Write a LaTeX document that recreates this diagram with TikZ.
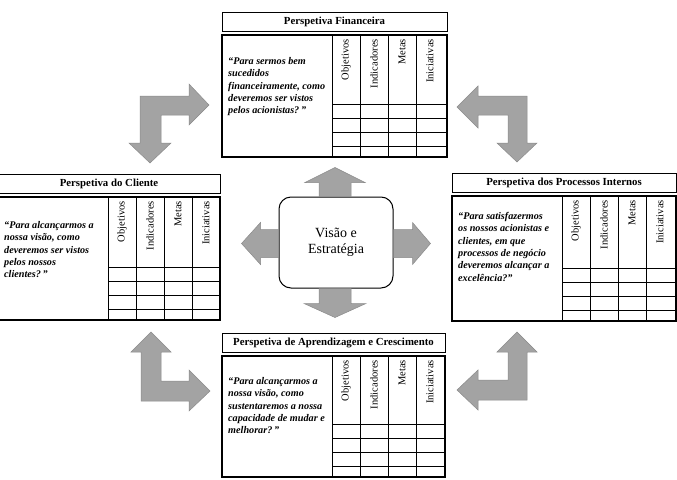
\documentclass[tikz,border=0pt]{standalone}
\usepackage{fontspec}
\setmainfont{Liberation Serif}
\usepackage{tikz}
\usetikzlibrary{%
  calc,
  positioning
}

\definecolor{arrowgray}{HTML}{A3A3A3}
\definecolor{arrowedge}{HTML}{8A8A8A}

% one perspective box: #1 name, #2 left, #3 right, #4 title top,
% #5 body bottom, #6 title, #7 question, #8 question top
\newcommand{\perspetiva}[8]{%
  \pgfmathsetmacro{\titlebot}{#4+19}
  \pgfmathsetmacro{\bodytop}{#4+23}
  \draw [titlebox] (#2,#4) rectangle (#3,\titlebot) ;
  \node [titletext] (#1-title) at ({(#2+#3)/2},{(#4+\titlebot)/2}) {#6} ;
  \draw [bodybox] (#2,\bodytop) rectangle (#3,#5) ;
  % columns
  \foreach \i in {0,1,2,3}
    \draw [gridline] (#2+110+28*\i,\bodytop) -- (#2+110+28*\i,#5) ;
  \foreach \lab [count=\i from 0] in {Objetivos,Indicadores,Metas,Iniciativas}
    \node [colhead] (#1-col\i) at (#2+124+28*\i,\bodytop+4) {\lab} ;
  % rows
  \foreach \d in {53,39,25,11}
    \draw [gridline] (#2+110,#5-\d) -- (#3,#5-\d) ;
  \node [question] (#1-q) at (#2+6,#8) {#7} ;
}

\begin{document}
\begin{tikzpicture}[x=1pt, y=-1pt,
  titlebox/.style={draw, line width=0.9pt},
  bodybox/.style={draw, line width=1.1pt},
  gridline/.style={draw, line width=0.7pt},
  titletext/.style={font=\fontsize{10.8}{12}\selectfont\bfseries, inner sep=0pt},
  colhead/.style={font=\fontsize{10.5}{12}\selectfont, rotate=90, anchor=east, inner sep=0pt},
  question/.style={font=\fontsize{10.2}{12.4}\selectfont\bfseries\itshape,
    align=left, anchor=north west, inner sep=0pt},
  blockarrow/.style={fill=arrowgray, draw=arrowedge, line width=0.5pt, line join=miter},
  centerbox/.style={draw, line width=1pt, rounded corners=12pt, fill=white,
    minimum width=114pt, minimum height=91pt, align=center,
    font=\fontsize{14}{15.5}\selectfont}
  ]
  \useasboundingbox (0,0) rectangle (677,479) ;

  % centre
  \node [centerbox] (visao) at (336,242.5) {Visão e\\Estratégia} ;

  % arrows out of the centre
  \draw [blockarrow] (visao.north) ++(-17,0) -- ++(0,-14) -- ++(-14,0)
        -- ++(30,-15) -- ++(30,15) -- ++(-14,0) -- ++(0,14) -- cycle ;
  \draw [blockarrow] (visao.south) ++(-17,0) -- ++(0,15) -- ++(-15,0)
        -- ++(31,14) -- ++(31,-14) -- ++(-15,0) -- ++(0,-15) -- cycle ;
  \draw [blockarrow] (visao.west) ++(0,-13) -- ++(-18,0) -- ++(0,-7)
        -- ++(-19,21) -- ++(19,21) -- ++(0,-7) -- ++(18,0) -- cycle ;
  \draw [blockarrow] (visao.east) ++(0,-13) -- ++(19,0) -- ++(0,-7)
        -- ++(18,21) -- ++(-18,21) -- ++(0,-7) -- ++(-19,0) -- cycle ;

  % corner arrows
  \draw [blockarrow] (150,163) -- (171,143) -- (161,143) -- (161,115) -- (189,115)
        -- (189,125) -- (209,105) -- (189,84) -- (189,96) -- (140,96)
        -- (140,143) -- (129,143) -- cycle ;
  \draw [blockarrow] (457,107) -- (478,86) -- (478,96) -- (527,96) -- (527,143)
        -- (537,143) -- (517,162) -- (497,143) -- (508,143) -- (508,115)
        -- (478,115) -- (478,128) -- cycle ;
  \draw [blockarrow] (151,332) -- (171,352) -- (161,352) -- (161,381) -- (189,381)
        -- (189,370) -- (210,391) -- (189,411) -- (189,401) -- (141,401)
        -- (141,352) -- (131,352) -- cycle ;
  \draw [blockarrow] (517,332) -- (537,352) -- (527,352) -- (527,400) -- (478,400)
        -- (478,410) -- (457,390) -- (478,370) -- (478,380) -- (508,380)
        -- (508,352) -- (497,352) -- cycle ;

  % the four perspectives
  \perspetiva{fin}{222}{447}{12}{157}{Perspetiva Financeira}
    {\fontsize{10.2}{9.8}\selectfont “Para sermos bem\\sucedidos\\financeiramente, como\\deveremos ser vistos\\pelos acionistas?\,”}{57}
  \perspetiva{cli}{-2}{220}{174}{320}{Perspetiva do Cliente}
    {“Para alcançarmos a\\nossa visão, como\\deveremos ser vistos\\pelos nossos\\clientes?\,”}{221}
  \perspetiva{proc}{452}{676}{173}{321}{Perspetiva dos Processos Internos}
    {“Para satisfazermos\\os nossos acionistas e\\clientes, em que\\processos de negócio\\deveremos alcançar a\\excelência?”}{212}
  \perspetiva{apr}{222}{445}{333}{477}{Perspetiva de Aprendizagem e Crescimento}
    {“Para alcançarmos a\\nossa visão, como\\sustentaremos a nossa\\capacidade de mudar e\\melhorar?\,”}{377}

\end{tikzpicture}
\end{document}
